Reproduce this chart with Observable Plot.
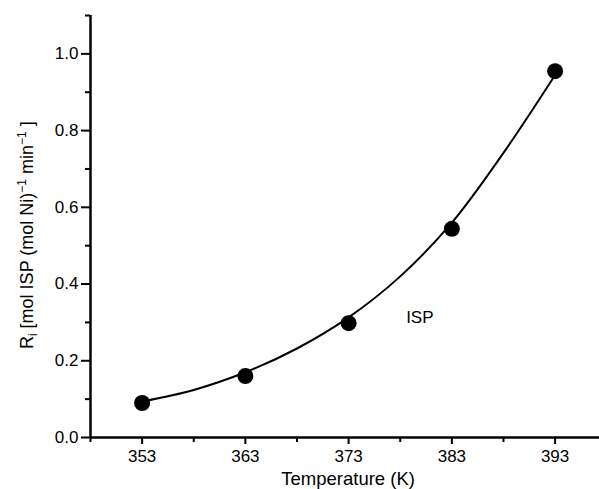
<!DOCTYPE html>
<html>
<head>
<meta charset="utf-8">
<script src="https://cdn.jsdelivr.net/npm/d3@7"></script>
<script src="https://cdn.jsdelivr.net/npm/@observablehq/plot@0.6"></script>
<style>
  html, body { margin: 0; padding: 0; background: #fff; }
  #chart svg { display: block; }
</style>
</head>
<body>
<div id="chart"></div>
<script>
// Measured rates
const temperatures = [353, 363, 373, 383, 393];
const rates = [0.090, 0.160, 0.298, 0.544, 0.955];

// Fitted curve
const fitTemperatures = [353, 358, 363, 368, 373, 378, 383, 388, 393];
const fitRates = [0.094, 0.124, 0.170, 0.232, 0.313, 0.420, 0.560, 0.742, 0.945];

// Ticks
const xMajorTicks = [353, 363, 373, 383, 393];
const xMinorTicks = [348, 358, 368, 378, 388];
const yMajorTicks = [0, 0.2, 0.4, 0.6, 0.8, 1.0];
const yMinorTicks = [0.1, 0.3, 0.5, 0.7, 0.9, 1.1];

const seriesLabel = "ISP";
const xLabel = "Temperature (K)";

const points = temperatures.map((t, i) => ({t, r: rates[i]}));
const fit = fitTemperatures.map((t, i) => ({t, r: fitRates[i]}));

const font = "'Liberation Sans', Arial, Helvetica, sans-serif";

const chart = Plot.plot({
  width: 599,
  height: 489,
  marginLeft: 90,
  marginRight: 0,
  marginTop: 15,
  marginBottom: 52,
  style: {fontFamily: font, color: "#000", background: "#fff", overflow: "visible"},
  x: {domain: [348, 397.3], axis: null},
  y: {domain: [0, 1.1], axis: null},
  marks: [
    Plot.axisX({ticks: xMinorTicks, tickSize: 5, strokeWidth: 2, text: null, label: null}),
    Plot.axisX({ticks: xMajorTicks, tickSize: 7, strokeWidth: 2, tickPadding: 5, fontSize: 17, label: null, tickFormat: d => String(d)}),
    Plot.axisY({ticks: yMinorTicks, tickSize: 5, strokeWidth: 2, text: null, label: null}),
    Plot.axisY({ticks: yMajorTicks, tickSize: 9, strokeWidth: 2, tickPadding: 3, fontSize: 17, label: null, tickFormat: d3.format(".1f")}),
    Plot.ruleY([0], {strokeWidth: 2.5}),
    Plot.ruleX([348], {strokeWidth: 2.5}),
    Plot.line(fit, {x: "t", y: "r", curve: "catmull-rom", strokeWidth: 2, stroke: "#000"}),
    Plot.dot(points, {x: "t", y: "r", r: 8, fill: "#000", stroke: "none"}),
    Plot.text([seriesLabel], {x: 379.9, y: 0.313, text: d => d, fontSize: 17, fill: "#000"})
  ]
});

document.getElementById("chart").appendChild(chart);

const svg = d3.select(chart);
const xs = chart.scale("x");
const ys = chart.scale("y");

// X axis title
svg.append("text")
  .attr("x", xs.apply(373))
  .attr("y", 485)
  .attr("text-anchor", "middle")
  .attr("font-family", font)
  .attr("font-size", 18.5)
  .attr("fill", "#000")
  .text(xLabel);

// Y axis title with subscript / superscripts
const yt = svg.append("text")
  .attr("transform", `translate(33,${ys.apply(0.5) - 10}) rotate(-90)`)
  .attr("text-anchor", "middle")
  .attr("font-family", font)
  .attr("font-size", 18)
  .attr("fill", "#000");
yt.append("tspan").text("R");
yt.append("tspan").attr("font-size", 12).attr("dy", 4).text("i");
yt.append("tspan").attr("dy", -4).text(" [mol ISP (mol Ni)");
yt.append("tspan").attr("font-size", 12).attr("dy", -7).text("−1");
yt.append("tspan").attr("dy", 7).text(" min");
yt.append("tspan").attr("font-size", 12).attr("dy", -7).text("−1");
yt.append("tspan").attr("dy", 7).text(" ]");
</script>
</body>
</html>
